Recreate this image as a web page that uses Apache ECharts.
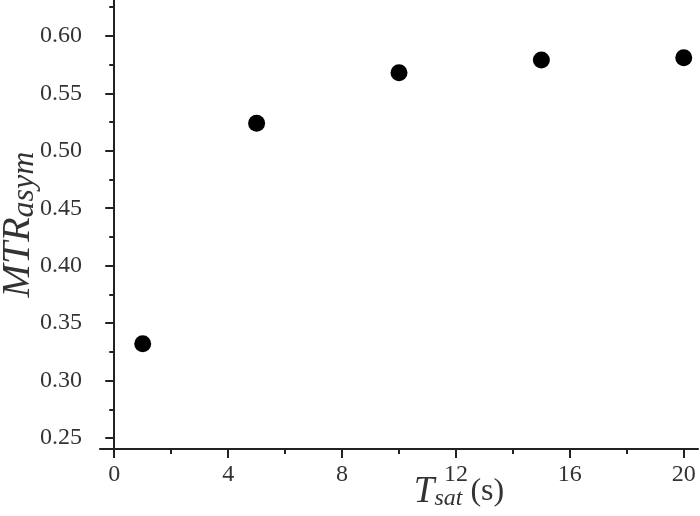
<!DOCTYPE html>
<html>
<head>
<meta charset="utf-8">
<script src="https://cdn.jsdelivr.net/npm/echarts@6/dist/echarts.min.js"></script>
<style>html,body{margin:0;padding:0;background:#fff}#c{width:700px;height:516px}</style>
</head>
<body>
<div id="c"></div>
<script>
var xValues = [1, 5, 10, 15, 20];
var yValues = [0.332, 0.524, 0.568, 0.579, 0.581];
var xMajorTicks = [0, 4, 8, 12, 16, 20];
var xMinorTicks = [2, 6, 10, 14, 18];
var yMajorTicks = [0.25, 0.30, 0.35, 0.40, 0.45, 0.50, 0.55, 0.60];
var yMinorTicks = [0.275, 0.325, 0.375, 0.425, 0.475, 0.525, 0.575, 0.625];

var FONT = '"Liberation Serif", "DejaVu Serif", serif';
var AX = '#222';
var chart = echarts.init(document.getElementById('c'));
var xr = {min: -0.5, max: 20.5};
var yr = {min: 0.2404, max: 0.6313};

chart.setOption({
  animation: false,
  backgroundColor: '#fff',
  grid: {left: 100, right: 2, top: 0, bottom: 67, containLabel: false, outerBoundsMode: 'none'},
  xAxis: [{
    type: 'value', position: 'bottom', min: xr.min, max: xr.max,
    axisLine: {show: true, lineStyle: {color: AX, width: 2}},
    axisTick: {show: true, customValues: xMajorTicks, length: 9, lineStyle: {color: AX, width: 2}},
    axisLabel: {customValues: xMajorTicks, margin: 14, color: '#333', fontFamily: FONT, fontSize: 24},
    splitLine: {show: false},
    name: '{t|T}{s|sat}{p| (s)}',
    nameLocation: 'middle',
    nameMoveOverlap: false,
    nameGap: 25,
    nameTextStyle: {
      padding: [0, 0, 0, 120],
      rich: {
        t: {fontFamily: FONT, fontStyle: 'italic', fontSize: 37, lineHeight: 36, color: '#333'},
        s: {fontFamily: FONT, fontStyle: 'italic', fontSize: 24, lineHeight: 24, padding: [14, 0, 0, 0], color: '#333'},
        p: {fontFamily: FONT, fontSize: 32, lineHeight: 36, color: '#333'}
      }
    }
  }, {
    type: 'value', position: 'bottom', min: xr.min, max: xr.max,
    axisLine: {show: false},
    axisTick: {show: true, customValues: xMinorTicks, length: 5, lineStyle: {color: AX, width: 2}},
    axisLabel: {show: false},
    splitLine: {show: false}
  }],
  yAxis: [{
    type: 'value', position: 'left', min: yr.min, max: yr.max,
    axisLine: {show: true, lineStyle: {color: AX, width: 2}},
    axisTick: {show: true, customValues: yMajorTicks, length: 9, lineStyle: {color: AX, width: 2}},
    axisLabel: {customValues: yMajorTicks, margin: 18, color: '#333', fontFamily: FONT, fontSize: 24,
      formatter: function (v) { return v.toFixed(2); }},
    splitLine: {show: false},
    name: '{m|MTR}{a|asym}',
    nameLocation: 'middle',
    nameMoveOverlap: false,
    nameRotate: 90,
    nameGap: 62,
    nameTextStyle: {
      rich: {
        m: {fontFamily: FONT, fontStyle: 'italic', fontSize: 40, lineHeight: 40, color: '#333'},
        a: {fontFamily: FONT, fontStyle: 'italic', fontSize: 32, lineHeight: 32, padding: [13, 0, 0, 0], color: '#333'}
      }
    }
  }, {
    type: 'value', position: 'left', min: yr.min, max: yr.max,
    axisLine: {show: false},
    axisTick: {show: true, customValues: yMinorTicks, length: 5, lineStyle: {color: AX, width: 2}},
    axisLabel: {show: false},
    splitLine: {show: false}
  }],
  series: [{
    type: 'scatter',
    xAxisIndex: 0, yAxisIndex: 0,
    symbol: 'circle',
    symbolSize: 17,
    itemStyle: {color: '#000', opacity: 1},
    data: xValues.map(function (x, i) { return [x, yValues[i]]; })
  }]
});
</script>
</body>
</html>
